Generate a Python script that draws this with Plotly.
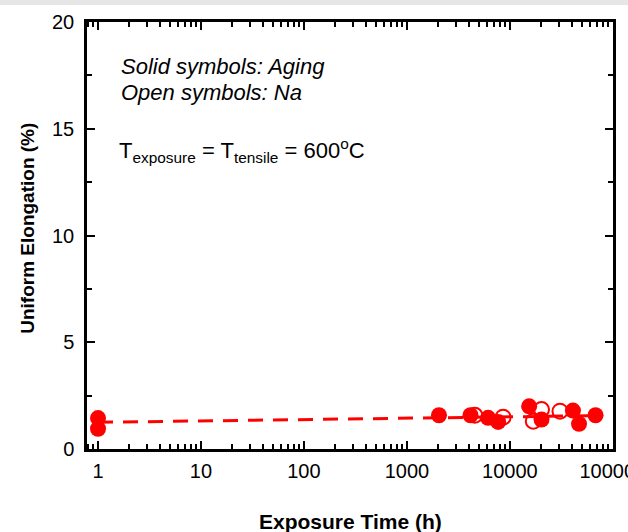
import plotly.graph_objects as go

# Data
aging_time = [1, 1, 2050, 4150, 6150, 7700, 15400, 20300, 41000, 47000, 68000]
aging_elong = [1.45, 0.95, 1.58, 1.58, 1.46, 1.27, 2.0, 1.38, 1.8, 1.18, 1.58]
na_time = [4570, 8600, 16900, 20300, 30700]
na_elong = [1.58, 1.49, 1.30, 1.85, 1.77]
fit_time = [1, 68000]
fit_elong = [1.25, 1.56]

x_tickvals = [1, 10, 100, 1000, 10000, 100000]
x_ticktext = ["1", "10", "100", "1000", "10000", "100000"]
y_tickvals = [0, 5, 10, 15, 20]

RED = "#ff0000"
FONT = "Liberation Sans, Arial, sans-serif"

fig = go.Figure()
fig.add_trace(go.Scatter(x=fit_time, y=fit_elong, mode="lines",
                         line=dict(color=RED, width=3, dash="15px,10px"),
                         showlegend=False, hoverinfo="skip"))
fig.add_trace(go.Scatter(x=na_time, y=na_elong, mode="markers",
                         marker=dict(symbol="circle-open", size=15, color=RED,
                                     line=dict(width=2, color=RED)),
                         showlegend=False))
fig.add_trace(go.Scatter(x=aging_time, y=aging_elong, mode="markers",
                         marker=dict(symbol="circle", size=16, color=RED),
                         showlegend=False))

fig.update_layout(
    width=628, height=532,
    margin=dict(l=87, r=15, t=22, b=82.5),
    paper_bgcolor="white", plot_bgcolor="white",
    font=dict(family=FONT, size=20, color="black"),
    xaxis=dict(type="log", range=[-0.107, 5.002], automargin=False,
               tickvals=x_tickvals, ticktext=x_ticktext,
               ticks="inside", ticklen=8, tickwidth=2, tickcolor="black",
               ticklabeloverflow="allow", ticklabelstandoff=2,
               minor=dict(ticks="inside", ticklen=5, tickwidth=1.5, tickcolor="black", dtick="D1", showgrid=False),
               showline=True, linecolor="black", linewidth=2.5, mirror="ticks",
               showgrid=False, zeroline=False,
               tickfont=dict(size=20)),
    yaxis=dict(range=[0, 20], tickvals=y_tickvals, automargin=False,
               ticks="inside", ticklen=8, tickwidth=2, tickcolor="black",
               ticklabelstandoff=6,
               minor=dict(ticks="inside", ticklen=5, tickwidth=1.5, tickcolor="black", dtick=2.5, showgrid=False),
               showline=True, linecolor="black", linewidth=2.5, mirror="ticks",
               showgrid=False, zeroline=False,
               tickfont=dict(size=20)),
)

# Axis titles
fig.add_annotation(xref="paper", yref="paper", x=0.5, y=-0.17, xanchor="center", yanchor="middle",
                   text="<b>Exposure Time (h)</b>", showarrow=False, font=dict(size=21))
fig.add_annotation(xref="paper", yref="paper", x=-0.112, y=0.516, xanchor="center", yanchor="middle",
                   text="<b>Uniform Elongation (%)</b>", textangle=-90, showarrow=False, font=dict(size=19))

# In-plot notes
fig.add_annotation(xref="paper", yref="paper", x=0.06, y=0.895, xanchor="left", yanchor="middle",
                   text="<i>Solid symbols: Aging</i>", showarrow=False, font=dict(size=22))
fig.add_annotation(xref="paper", yref="paper", x=0.06, y=0.834, xanchor="left", yanchor="middle",
                   text="<i>Open symbols: Na</i>", showarrow=False, font=dict(size=22))
fig.add_annotation(xref="paper", yref="paper", x=0.057, y=0.70, xanchor="left", yanchor="middle",
                   text="T<sub>exposure</sub> = T<sub>tensile</sub> = 600<sup>o</sup>C",
                   showarrow=False, font=dict(size=22))

fig.add_shape(type="rect", xref="paper", yref="paper", x0=-0.2, x1=1.1, y0=1.04, y1=1.06,
              fillcolor="#e6e6e6", line=dict(width=0), layer="above")

fig.write_html("out.html")
